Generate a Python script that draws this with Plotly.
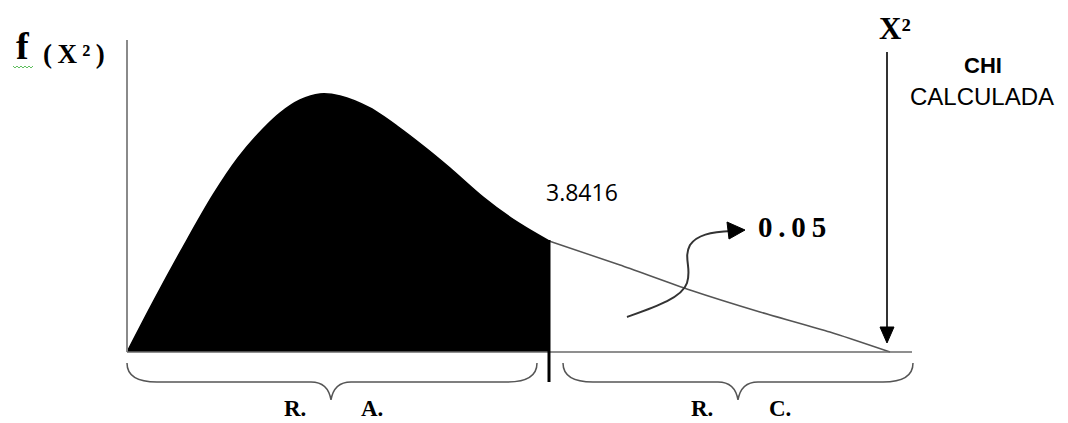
import plotly.graph_objects as go

# ---- data (chi-square density sketch) ----
critical_value = 3.8416
alpha_label = "0.05"
# accepted region (filled) curve points
x_accept = [0.0, 0.237, 0.546, 0.783, 1.010, 1.238, 1.393, 1.575, 1.757, 1.939, 2.212, 2.458,
            2.731, 2.940, 3.241, 3.550, 3.8416]
y_accept = [0.0, 0.050, 0.112, 0.157, 0.194, 0.223, 0.239, 0.252, 0.258, 0.256, 0.244, 0.226,
            0.203, 0.184, 0.155, 0.130, 0.111]
# rejection region tail
x_reject = [3.8416, 4.488, 5.125, 5.762, 6.399, 6.946]
y_reject = [0.111, 0.087, 0.062, 0.040, 0.020, 0.0]
region_labels = ["R.", "A.", "R.", "C."]

W, H = 1068, 423
PXU = 422 / 3.8416      # pixels per x unit
X0P, Y0P = 127, 352     # pixel of origin
PYU = 1000.0            # pixels per y unit


def X(p):
    return (p - X0P) / PXU


def Y(q):
    return (Y0P - q) / PYU


fig = go.Figure()

fig.add_trace(go.Scatter(
    x=x_accept, y=y_accept, mode="lines",
    line=dict(color="black", width=1.5, shape="spline", smoothing=0.8),
    fill="tozeroy", fillcolor="black", hoverinfo="skip", showlegend=False))
fig.add_trace(go.Scatter(
    x=x_reject, y=y_reject, mode="lines",
    line=dict(color="#555555", width=1.5, shape="spline", smoothing=0.6),
    hoverinfo="skip", showlegend=False))

shapes = []
# axes
shapes.append(dict(type="line", x0=X(127), x1=X(127), y0=Y(352), y1=Y(40),
                   line=dict(color="#8a8a8a", width=2), xref="x", yref="y"))
shapes.append(dict(type="line", x0=X(127), x1=X(912), y0=Y(352), y1=Y(352),
                   line=dict(color="#6a6a6a", width=1.5), xref="x", yref="y"))
# critical value line
shapes.append(dict(type="line", x0=critical_value, x1=critical_value, y0=Y(240), y1=Y(382),
                   line=dict(color="black", width=3), xref="x", yref="y"))
# vertical arrow (chi calculada)
shapes.append(dict(type="line", x0=X(887), x1=X(887), y0=Y(52), y1=Y(330),
                   line=dict(color="#333333", width=2), xref="x", yref="y"))
shapes.append(dict(type="path", xref="x", yref="y",
                   path=f"M{X(887)},{Y(343)} L{X(880)},{Y(327)} L{X(894)},{Y(327)} Z",
                   fillcolor="black", line=dict(color="black", width=1)))


def pts(*pairs):
    return " ".join(f"{X(a)},{Y(b)}" for a, b in pairs)


# curved arrow to 0.05
shapes.append(dict(type="path", xref="x", yref="y",
                   path=(f"M{pts((627,317))} C{pts((655,307),(682,298),(687,283))} "
                         f"C{pts((692,268),(683,258),(690,245))} C{pts((697,235),(710,232),(732,231))}"),
                   line=dict(color="#333333", width=2)))
shapes.append(dict(type="path", xref="x", yref="y",
                   path=f"M{pts((745,230))} L{pts((727,222))} L{pts((729,239))} Z",
                   fillcolor="black", line=dict(color="black", width=1)))


def brace(xl, xr, xc, ytop=363, ybot=382, ytip=400):
    return (f"M{pts((xl,ytop))} Q{pts((xl,ybot),(xl+30,ybot))} L{pts((xc-20,ybot))} "
            f"Q{pts((xc-3,ybot),(xc,ytip))} Q{pts((xc+3,ybot),(xc+20,ybot))} "
            f"L{pts((xr-30,ybot))} Q{pts((xr,ybot),(xr,ytop))}")


shapes.append(dict(type="path", xref="x", yref="y", path=brace(127, 537, 331),
                   line=dict(color="#555555", width=1.5)))
shapes.append(dict(type="path", xref="x", yref="y", path=brace(563, 913, 738),
                   line=dict(color="#555555", width=1.5)))
# green spell-check squiggle under f
sq = "M" + " L".join(f"{X(13 + i*2)},{Y(67 + (1 if i % 2 else -1))}" for i in range(11))
shapes.append(dict(type="path", xref="x", yref="y", path=sq, line=dict(color="#5fbf5f", width=1)))

serif = "Liberation Serif"
sans = "Liberation Sans"
ann = []
THIN = "\u2009"


def txt(t, px, py, size, family, bold=False, color="black"):
    ann.append(dict(text=f"<b>{t}</b>" if bold else t, x=X(px), y=Y(py), xref="x", yref="y",
                    showarrow=False, xanchor="center", yanchor="middle",
                    font=dict(size=size, family=family, color=color)))


txt("f", 23, 46, 38, serif, bold=True)
txt(THIN.join("(X²)"), 74, 54, 27, serif, bold=True)
txt("X²", 895, 28, 31, serif, bold=True)
txt("CHI", 983, 65, 22, sans, bold=True)
txt("CALCULADA", 982, 96, 24, sans)
txt(f"{critical_value:.4f}", 582, 192, 23, "Open Sans")
txt(THIN.join(alpha_label), 792, 227, 29, serif, bold=True)
txt(region_labels[0], 295, 408, 23, serif, bold=True)
txt(region_labels[1], 372, 408, 23, serif, bold=True)
txt(region_labels[2], 702, 408, 23, serif, bold=True)
txt(region_labels[3], 780, 408, 23, serif, bold=True)

fig.update_layout(
    width=W, height=H, margin=dict(l=0, r=0, t=0, b=0),
    paper_bgcolor="white", plot_bgcolor="white",
    xaxis=dict(range=[X(0), X(W)], visible=False, fixedrange=True),
    yaxis=dict(range=[Y(H), Y(0)], visible=False, fixedrange=True),
    shapes=shapes, annotations=ann, showlegend=False,
)

fig.write_html("out.html", config={"displayModeBar": False},
               post_script="document.body.style.margin='0';document.body.style.padding='0';document.body.style.overflow='hidden';")
